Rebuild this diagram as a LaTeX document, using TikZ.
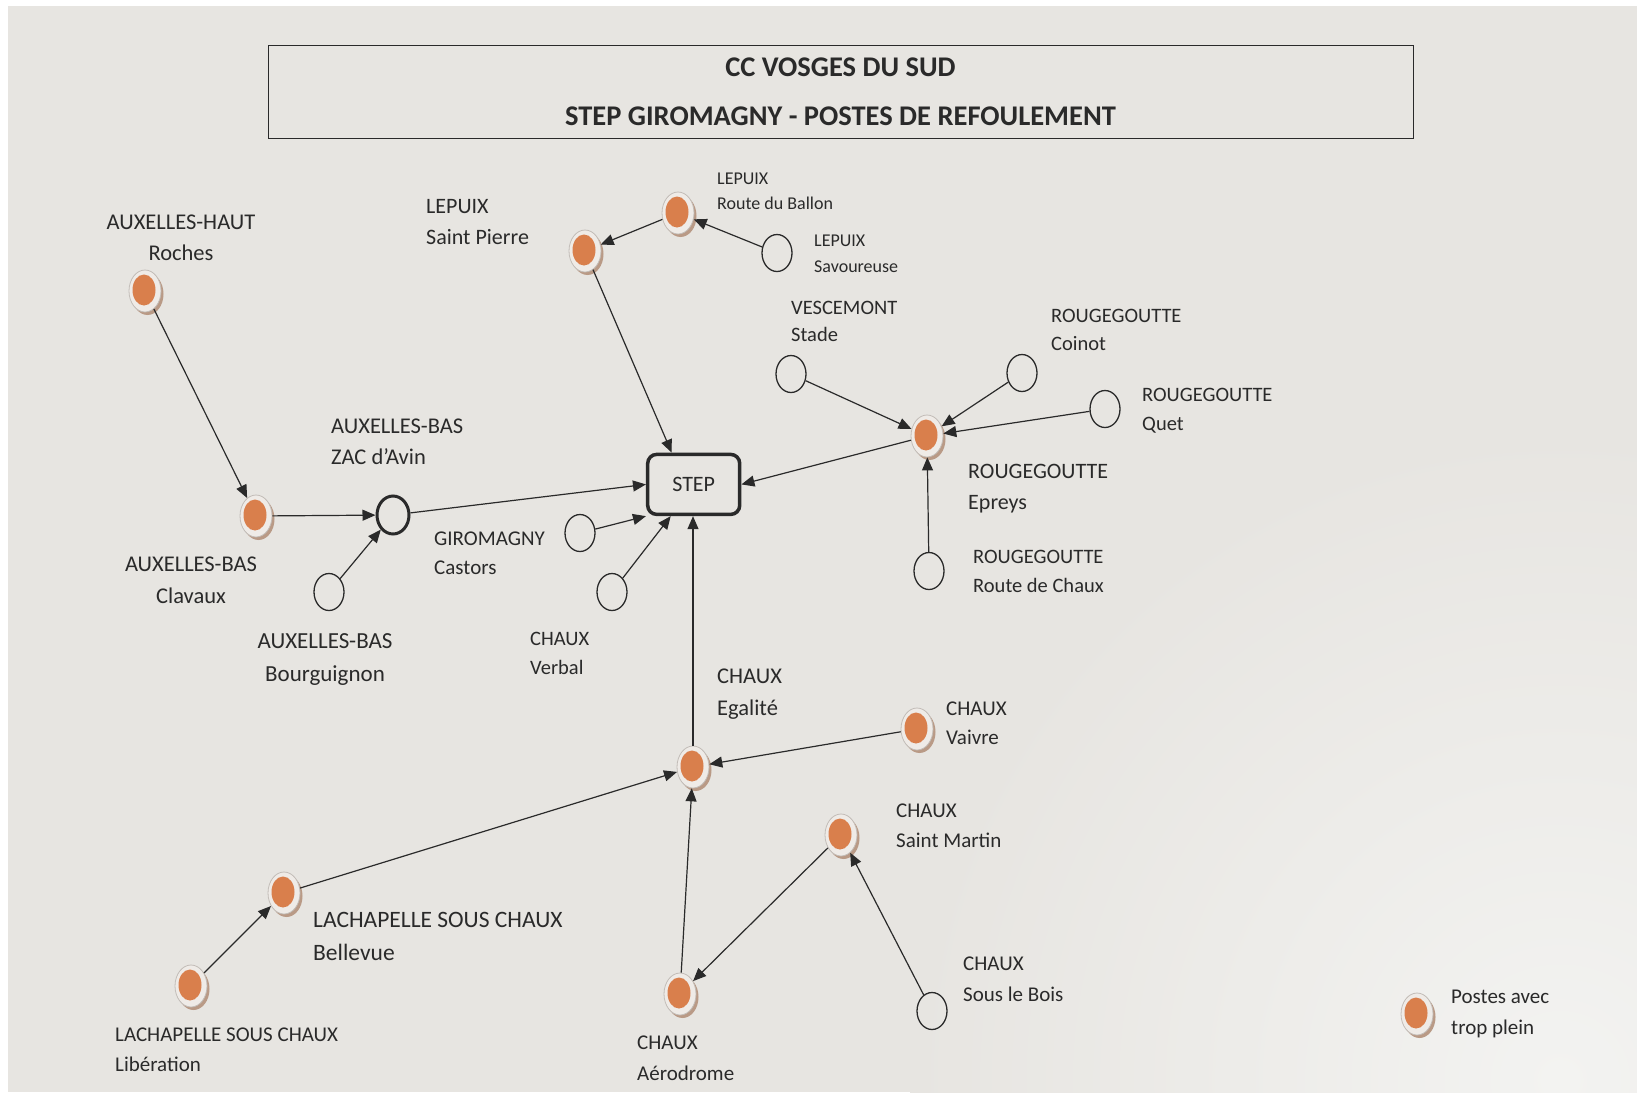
\documentclass[tikz,border=0pt]{standalone}
\usepackage{fontspec}
\setmainfont{Carlito}
\usetikzlibrary{arrows.meta,shapes.geometric,shadows}
\definecolor{bgc}{HTML}{E7E5E1}
\definecolor{bglight}{HTML}{F3F3F1}
\definecolor{txt}{HTML}{2A2A2A}
\definecolor{orangec}{HTML}{D97F4C}
\definecolor{ringc}{HTML}{EFEBE7}
\definecolor{ringline}{HTML}{C2BCB7}
\definecolor{shadowc}{HTML}{B99A86}
\newcommand{\myfs}[2]{\fontsize{#1}{#2}\selectfont}
\tikzset{
  lbl/.style={anchor=north west, inner sep=0pt, align=left, text=txt},
  lblc/.style={anchor=north, inner sep=0pt, align=center, text=txt},
  orng/.style={ellipse, minimum width=32pt, minimum height=42pt, inner sep=0pt,
    fill=ringc, draw=ringline, line width=0.8pt,
    drop shadow={shadow xshift=2.5pt, shadow yshift=-3pt, fill=shadowc, opacity=1},
    path picture={\fill[orangec] ([xshift=-1pt,yshift=1pt]path picture bounding box.center) ellipse (11.5pt and 15.5pt);}},
  wc/.style={ellipse, draw=txt, line width=1.3pt, minimum width=30pt, minimum height=37pt, inner sep=0pt},
  arr/.style={-{Triangle[length=13pt,width=11pt]}, line width=1.2pt, draw=txt},
}
\begin{document}
\begin{tikzpicture}[x=1pt,y=-1pt]
\useasboundingbox (0,0) rectangle (1637,1092);
\fill[white] (0,0) rectangle (1637,1092);
\fill[bgc] (8,6) rectangle (1637,1092);
\begin{scope}
\clip (8,6) rectangle (1637,1092);
\shade[inner color=bglight, outer color=bgc] (1560,1080) circle (650);
\end{scope}

% title
\node[draw=txt, line width=1pt, minimum width=1145pt, minimum height=93pt, align=center,
  font=\bfseries\myfs{28.5}{49}, text=txt] (title) at (840.5,91.5)
  {CC VOSGES DU SUD\\STEP GIROMAGNY - POSTES DE REFOULEMENT};

% STEP
\node[draw=txt, line width=3.5pt, rounded corners=9pt, minimum width=92pt, minimum height=60pt,
  font=\myfs{22}{26}, text=txt] (step) at (693.7,484.4) {STEP};

% orange stations
\node[orng] (roches) at (145,291) {};
\node[orng] (clavaux) at (256,516) {};
\node[orng] (stpierre) at (585,251) {};
\node[orng] (ballon) at (678,213) {};
\node[orng] (epreys) at (927,436) {};
\node[orng] (egalite) at (693,767) {};
\node[orng] (vaivre) at (917,729) {};
\node[orng] (stmartin) at (841,835) {};
\node[orng] (aerodrome) at (680,994) {};
\node[orng] (bellevue) at (284,893) {};
\node[orng] (liberation) at (191,986) {};
\node[orng] (legend) at (1417,1014) {};

% white stations
\node[wc] (savoureuse) at (777,253) {};
\node[wc] (stade) at (791,374) {};
\node[wc] (coinot) at (1022,373) {};
\node[wc] (quet) at (1105,409) {};
\node[wc] (routechaux) at (929,571) {};
\node[wc, line width=3pt, minimum width=32pt, minimum height=38pt] (zac) at (393,515) {};
\node[wc] (bourguignon) at (329,592) {};
\node[wc] (castors) at (580,533) {};
\node[wc] (verbal) at (612,592) {};
\node[wc] (sousbois) at (932,1011) {};

% labels
\node[lblc, font=\myfs{22.5}{31}] (Lroches) at (181,215) {AUXELLES-HAUT\\Roches};
\node[lbl, font=\myfs{22}{31}] (Lstpierre) at (426,199) {LEPUIX\\Saint Pierre};
\node[lbl, font=\myfs{18}{25}] (Lballon) at (717,173) {LEPUIX\\Route du Ballon};
\node[lbl, font=\myfs{18}{26}] (Lsavoureuse) at (814,235) {LEPUIX\\Savoureuse};
\node[lbl, font=\myfs{20.5}{27}] (Lstade) at (791,301) {VESCEMONT\\Stade};
\node[lbl, font=\myfs{20.5}{28}] (Lcoinot) at (1051,309) {ROUGEGOUTTE\\Coinot};
\node[lbl, font=\myfs{20.5}{29}] (Lquet) at (1142,388) {ROUGEGOUTTE\\Quet};
\node[lbl, font=\myfs{22.5}{31}] (Lzac) at (331,419) {AUXELLES-BAS\\ZAC d'Avin};
\node[lbl, font=\myfs{22}{31}] (Lepreys) at (968,464) {ROUGEGOUTTE\\Epreys};
\node[lbl, font=\myfs{21}{29}] (Lcastors) at (434,532) {GIROMAGNY\\Castors};
\node[lbl, font=\myfs{20.5}{29}] (Lroutechaux) at (973,550) {ROUGEGOUTTE\\Route de Chaux};
\node[lblc, font=\myfs{22.5}{32}] (Lclavaux) at (191,557) {AUXELLES-BAS\\Clavaux};
\node[lblc, font=\myfs{23}{33}] (Lbourguignon) at (325,633) {AUXELLES-BAS\\Bourguignon};
\node[lbl, font=\myfs{20.5}{29}] (Lverbal) at (530,632) {CHAUX\\Verbal};
\node[lbl, font=\myfs{22.5}{32}] (Legalite) at (717,669) {CHAUX\\Egalité};
\node[lbl, font=\myfs{21}{29}] (Lvaivre) at (946,702) {CHAUX\\Vaivre};
\node[lbl, font=\myfs{21}{30}] (Lstmartin) at (896,804) {CHAUX\\Saint Martin};
\node[lbl, font=\myfs{21}{31}] (Lsousbois) at (963,957) {CHAUX\\Sous le Bois};
\node[lbl, font=\myfs{23.5}{33}] (Lbellevue) at (313,912) {LACHAPELLE SOUS CHAUX\\Bellevue};
\node[lbl, font=\myfs{21}{30}] (Lliberation) at (115,1028) {LACHAPELLE SOUS CHAUX\\Libération};
\node[lbl, font=\myfs{21}{31}] (Laerodrome) at (637,1036) {CHAUX\\Aérodrome};
\node[lbl, font=\myfs{21}{31}] (Llegend) at (1451,990) {Postes avec\\trop plein};

% connectors
\draw[arr] (roches) -- (clavaux);
\draw[arr] (clavaux) -- (zac);
\draw[arr] (bourguignon) -- (zac);
\draw[arr] (zac) -- (step.west);
\draw[arr] (castors) -- (step.south west);
\draw[arr] (verbal) -- ([xshift=-23pt]step.south);
\draw[arr] (egalite.north) -- (egalite.north |- step.south);
\draw[arr] (stpierre) -- ([xshift=-22pt]step.north);
\draw[arr] (ballon) -- (stpierre);
\draw[arr] (savoureuse) -- (ballon);
\draw[arr] (epreys) -- (step.east);
\draw[arr] (stade) -- (epreys);
\draw[arr] (coinot) -- (epreys);
\draw[arr] (quet) -- (epreys);
\draw[arr] (routechaux) -- (epreys);
\draw[arr] (vaivre) -- (egalite);
\draw[arr] (bellevue) -- (egalite);
\draw[arr] (aerodrome) -- (egalite);
\draw[arr] (liberation) -- (bellevue);
\draw[arr] (stmartin) -- (aerodrome);
\draw[arr] (sousbois) -- (stmartin);
\end{tikzpicture}
\end{document}
